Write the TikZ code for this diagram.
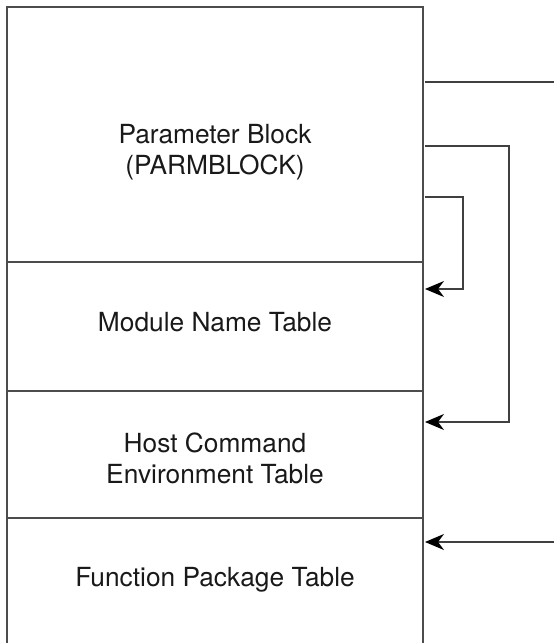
\documentclass[tikz,border=0pt]{standalone}
\usepackage{fontspec}
\setmainfont{TeX Gyre Heros}
\usetikzlibrary{arrows.meta}
\begin{document}
\begin{tikzpicture}[x=1pt,y=-1pt,
    frameLn/.style={line width=1.2pt,black!70},
    linkLn/.style={line width=1.1pt,black!75},
    linkArr/.style={linkLn,-{Stealth[length=19pt,width=16pt,inset=6pt,black]}},
    tabText/.style={font=\fontsize{26.3}{31}\selectfont,text=black!90,align=center,anchor=base,inner sep=0pt},
]
\useasboundingbox (0,0) rectangle (554,643);
% frame and section borders
\draw[frameLn] (7,643) -- (7,7) -- (423,7) -- (423,643);
\draw[frameLn] (7,262) -- (423,262);
\draw[frameLn] (7,391) -- (423,391);
\draw[frameLn] (7,518) -- (423,518);
% section titles (base = last line)
\node[tabText] (parmTxt) at (215,174) {Parameter Block\\(PARMBLOCK)};
\node[tabText] (modTxt) at (215,331) {Module Name Table};
\node[tabText] (hostTxt) at (215,483) {Host Command\\Environment Table};
\node[tabText] (funcTxt) at (215,586) {Function Package Table};
% link points on the right edge
\coordinate (parmOut) at (425,82);
\coordinate (parmModA) at (425,197);
\coordinate (parmHostA) at (425,146);
\coordinate (modIn) at (425,289);
\coordinate (hostIn) at (425,422);
\coordinate (funcIn) at (425,542);
\coordinate (outEnd) at (554,82);
\coordinate (inStart) at (554,542);
% links
\draw[linkLn] (parmOut) -- (outEnd);
\draw[linkArr] (parmModA) -| (463,243) |- (modIn);
\draw[linkArr] (parmHostA) -| (509,300) |- (hostIn);
\draw[linkArr] (inStart) -- (funcIn);
\end{tikzpicture}
\end{document}
